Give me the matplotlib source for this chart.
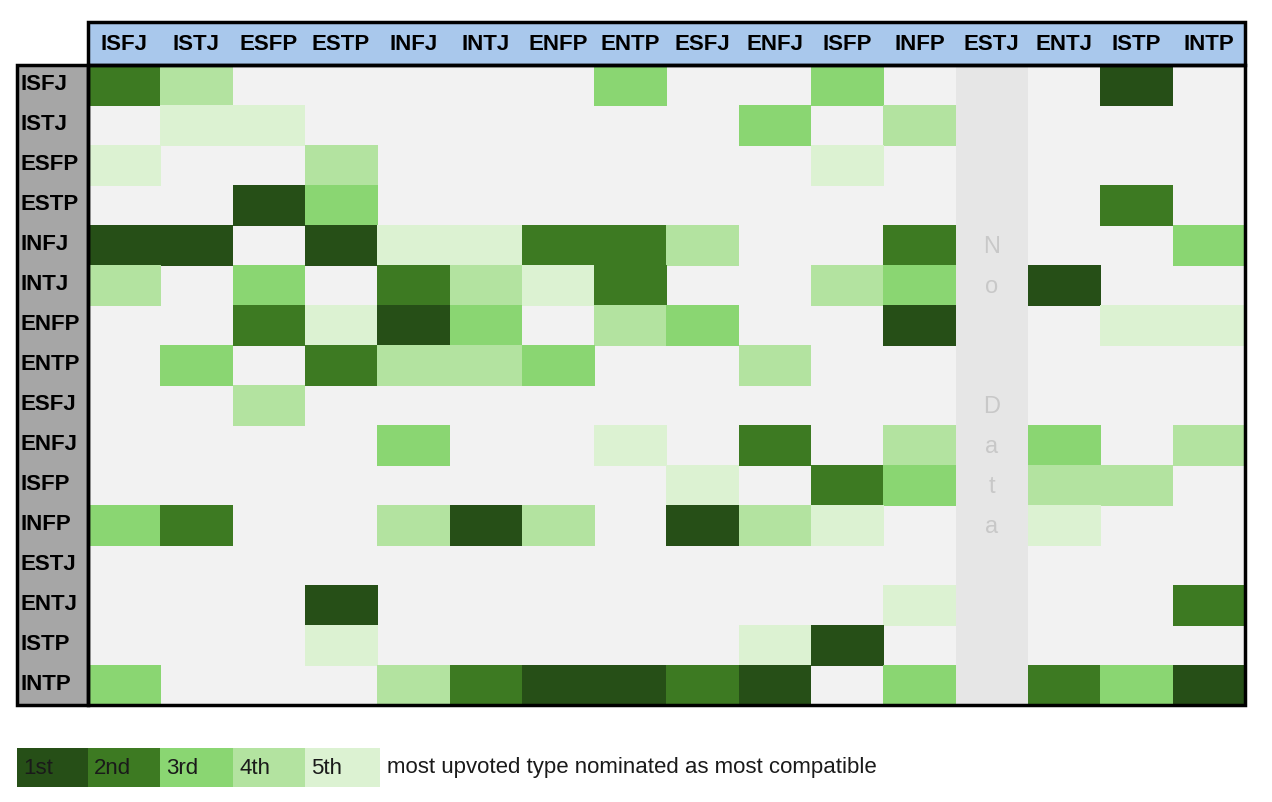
import matplotlib
matplotlib.use("Agg")
import matplotlib.pyplot as plt
from matplotlib.patches import Rectangle

types = ["ISFJ", "ISTJ", "ESFP", "ESTP", "INFJ", "INTJ", "ENFP", "ENTP",
         "ESFJ", "ENFJ", "ISFP", "INFP", "ESTJ", "ENTJ", "ISTP", "INTP"]
# rank of each nominated type per row: {column index: rank}
ranks = [
    {0: 2, 1: 4, 7: 3, 10: 3, 14: 1},
    {1: 5, 2: 5, 9: 3, 11: 4},
    {0: 5, 3: 4, 10: 5},
    {2: 1, 3: 3, 14: 2},
    {0: 1, 1: 1, 3: 1, 4: 5, 5: 5, 6: 2, 7: 2, 8: 4, 11: 2, 15: 3},
    {0: 4, 2: 3, 4: 2, 5: 4, 6: 5, 7: 2, 10: 4, 11: 3, 13: 1},
    {2: 2, 3: 5, 4: 1, 5: 3, 7: 4, 8: 3, 11: 1, 14: 5, 15: 5},
    {1: 3, 3: 2, 4: 4, 5: 4, 6: 3, 9: 4},
    {2: 4},
    {4: 3, 7: 5, 9: 2, 11: 4, 13: 3, 15: 4},
    {8: 5, 10: 2, 11: 3, 13: 4, 14: 4},
    {0: 3, 1: 2, 4: 4, 5: 1, 6: 4, 8: 1, 9: 4, 10: 5, 13: 5},
    {},
    {3: 1, 11: 5, 15: 2},
    {3: 5, 9: 5, 10: 1},
    {0: 3, 4: 4, 5: 2, 6: 1, 7: 1, 8: 2, 9: 1, 11: 3, 13: 2, 14: 3, 15: 1},
]
no_data_col = 12
rank_labels = ["1st", "2nd", "3rd", "4th", "5th"]
rank_colors = ["#264f17", "#3d7a22", "#8ad672", "#b3e3a0", "#dcf2d2"]

font = ["Liberation Sans Narrow", "Liberation Sans", "DejaVu Sans"]
plt.rcParams["font.family"] = font

fig = plt.figure(figsize=(12.72, 8.02), dpi=100)
ax = fig.add_axes([0, 0, 1, 1])
ax.set_xlim(0, 1272)
ax.set_ylim(802, 0)
ax.axis("off")

x0, y0, cw, ch = 88, 65, 72.3, 40
n = len(types)
# background
ax.add_patch(Rectangle((x0, y0), cw * n, ch * n, fc="#f2f2f2", ec="none"))
ax.add_patch(Rectangle((x0 + cw * no_data_col, y0), cw, ch * n, fc="#e6e6e6", ec="none"))
for i, row in enumerate(ranks):
    for j, r in row.items():
        ax.add_patch(Rectangle((x0 + j * cw, y0 + i * ch), cw + 0.5, ch + 0.5,
                               fc=rank_colors[r - 1], ec="none"))
# no data text
for k, ch_ in enumerate("No  Data"):
    if ch_.strip():
        ax.text(x0 + cw * (no_data_col + 0.5), 247 + k * 40, ch_, ha="center", va="center",
                fontsize=17, color="#c8c8c8")

# headers
ax.add_patch(Rectangle((x0, 22), cw * n, y0 - 22, fc="#a9c8ec", ec="black", lw=2.5))
ax.add_patch(Rectangle((17, y0), x0 - 17, ch * n, fc="#a6a6a6", ec="black", lw=2.5))
ax.add_patch(Rectangle((x0, y0), cw * n, ch * n, fc="none", ec="black", lw=2.5))
for j, t in enumerate(types):
    ax.text(x0 + cw * (j + 0.5), 44, t, ha="center", va="center",
            fontsize=16, fontweight="bold")
for i, t in enumerate(types):
    ax.text(20, y0 + ch * (i + 0.5), t, ha="left", va="center",
            fontsize=16, fontweight="bold")

# legend
lx = [17, 88, 160, 233, 305, 380]
for k, lab in enumerate(rank_labels):
    ax.add_patch(Rectangle((lx[k], 748), lx[k + 1] - lx[k], 39, fc=rank_colors[k], ec="none"))
    ax.text(lx[k] + 6, 768, lab, ha="left", va="center", fontsize=16, color="#1a1a1a")
ax.text(387, 768, "most upvoted type nominated as most compatible", ha="left", va="center",
        fontsize=16, color="#1a1a1a")

fig.savefig("out.png", dpi=100)
